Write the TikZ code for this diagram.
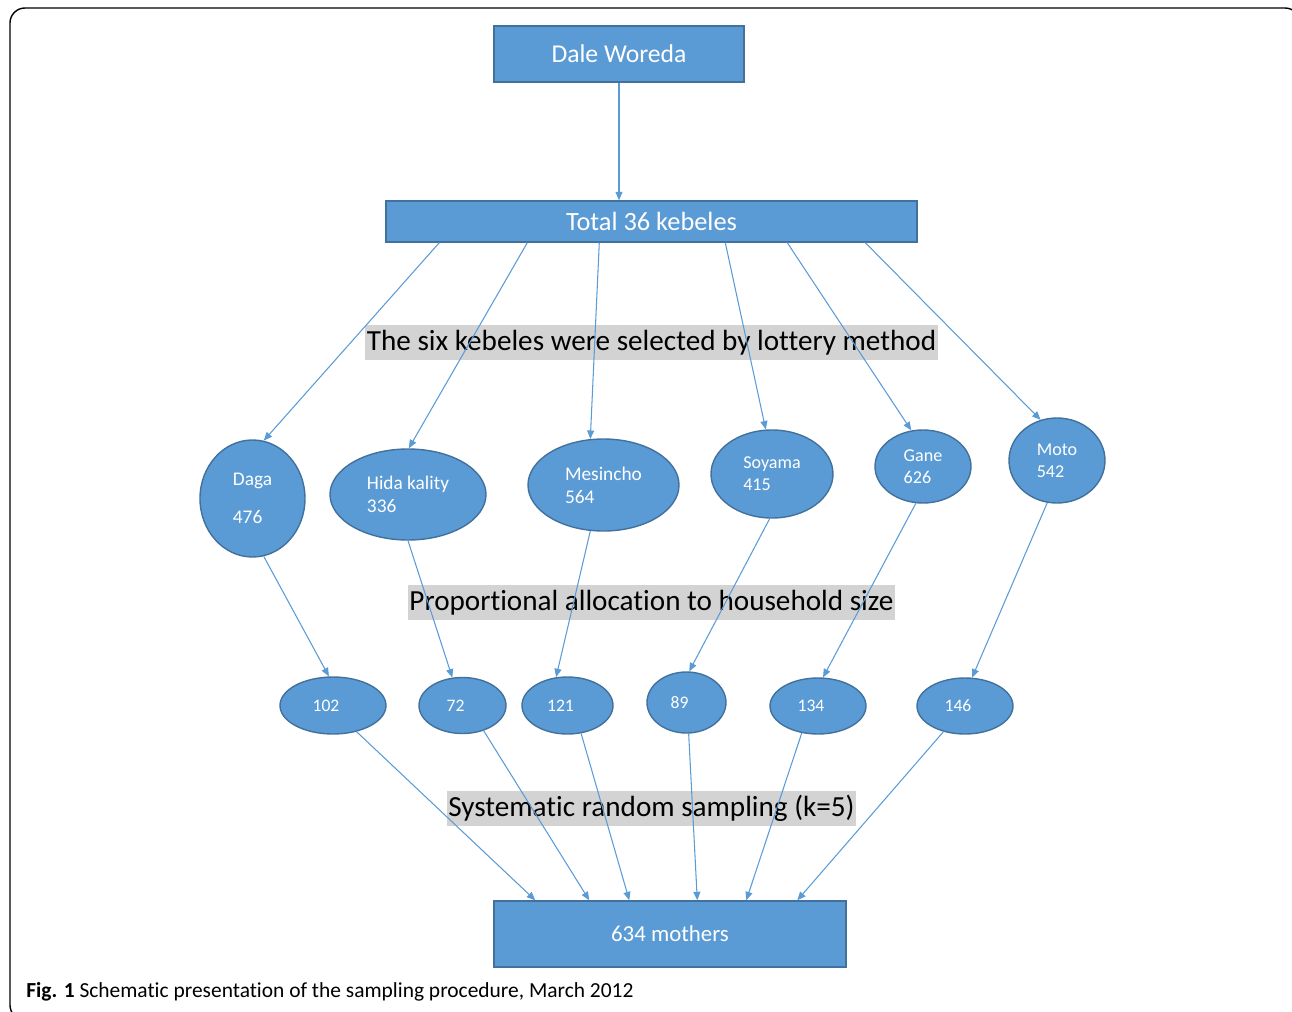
\documentclass[tikz,border=0pt]{standalone}
\usepackage{fontspec}
\setmainfont{Carlito}[Ligatures=NoCommon]
\usetikzlibrary{positioning}
\usetikzlibrary{shapes.geometric,arrows.meta}
\definecolor{boxblue}{HTML}{5B9BD5}
\definecolor{boxedge}{HTML}{41719C}
\definecolor{bandgray}{HTML}{D3D3D3}

\begin{document}
\begin{tikzpicture}[on grid,
	rbox/.style={draw=boxedge, fill=boxblue, line width=0.8pt, text=white, inner sep=0pt},
	kebele/.style={ellipse, draw=boxedge, fill=boxblue, line width=0.8pt, text=white, inner sep=0pt, align=left, font=\fontsize{11}{13}\selectfont},
	share/.style={ellipse, draw=boxedge, fill=boxblue, line width=0.8pt, text=white, inner sep=0pt, font=\fontsize{10}{12}\selectfont, execute at end node=\kern0.28cm},
	band/.style={fill=bandgray, inner xsep=1pt, inner ysep=0pt, minimum height=0.7cm, font=\fontsize{16.6}{19}\selectfont},
	conn/.style={draw=boxblue, line width=0.6pt, -{Triangle[length=1.7mm,width=1.4mm]}}]
	\useasboundingbox (-12.38,1.08) rectangle (13.46,-19.16);
	\draw[line width=0.8pt, rounded corners=0.3cm] (-12.18,0.92) rectangle (13.62,-19.32);
	%%%%%%%%%%
	\node[rbox, minimum width=5cm, minimum height=1.12cm, font=\fontsize{14.6}{17}\selectfont] (w) {Dale Woreda};
	\node[rbox, minimum width=10.62cm, minimum height=0.82cm, font=\fontsize{15}{18}\selectfont, below right=3.35cm and 0.65cm of w] (t) {Total 36 kebeles};
	\node[band, below=2.42cm of t] (l1) {The six kebeles were selected by lottery method};
	\node[band, below=5.20cm of l1] (l2) {Proportional allocation to household size};
	\node[band, below=4.11cm of l2] (l3) {Systematic random sampling (k=5)};
	%%%%%%%%%%
	\node[kebele, minimum width=2.10cm, minimum height=2.34cm, below left=5.54cm and 7.98cm of t] (k1) {Daga\\[9pt]476\kern0.16cm};
	\node[kebele, minimum width=3.12cm, minimum height=1.82cm, above right=0.08cm and 3.11cm of k1] (k2) {Hida kality\\336};
	\node[kebele, minimum width=3.02cm, minimum height=1.84cm, above right=0.19cm and 3.91cm of k2] (k3) {Mesincho\\564};
	\node[kebele, font=\fontsize{10.3}{12.5}\selectfont, minimum width=2.44cm, minimum height=1.76cm, above right=0.22cm and 3.37cm of k3] (k4) {Soyama\\415};
	\node[kebele, font=\fontsize{10.3}{12.5}\selectfont, minimum width=1.92cm, minimum height=1.46cm, above right=0.15cm and 3.02cm of k4] (k5) {Gane\\626};
	\node[kebele, font=\fontsize{10.3}{12.5}\selectfont, minimum width=1.92cm, minimum height=1.70cm, above right=0.12cm and 2.68cm of k5] (k6) {Moto\\542};
	%%%%%%%%%%
	\node[share, minimum width=2.12cm, minimum height=1.14cm, below right=4.14cm and 1.61cm of k1] (n1) {102};
	\node[share, minimum width=1.74cm, minimum height=1.12cm, right=2.59cm of n1] (n2) {72};
	\node[share, minimum width=1.82cm, minimum height=1.14cm, right=2.10cm of n2] (n3) {121};
	\node[share, minimum width=1.58cm, minimum height=1.22cm, above right=0.06cm and 2.38cm of n3] (n4) {89};
	\node[share, minimum width=1.92cm, minimum height=1.12cm, below right=0.07cm and 2.63cm of n4] (n5) {134};
	\node[share, minimum width=1.92cm, minimum height=1.12cm, right=2.94cm of n5] (n6) {146};
	\node[rbox, minimum width=7.04cm, minimum height=1.32cm, font=\fontsize{13}{16}\selectfont, below left=4.63cm and 0.33cm of n4] (m) {634 mothers};
	%%%%%%%%%%
	\draw[conn] (w) -- (w |- t.north);
	\draw[conn] ([xshift=1.08cm]t.south west) -- (k1.79);
	\draw[conn] ([xshift=2.84cm]t.south west) -- (k2.89);
	\draw[conn] ([xshift=4.28cm]t.south west) -- (k3.106);
	\draw[conn] ([xshift=6.80cm]t.south west) -- (k4.98);
	\draw[conn] ([xshift=8.04cm]t.south west) -- (k5.108);
	\draw[conn] ([xshift=9.60cm]t.south west) -- (k6.112);
	%%%%%%%%%%
	\draw[conn] (k1.-79) -- (n1.98);
	\draw[conn] (k2.-90) -- (n2.110);
	\draw[conn] (k3.-106) -- (n3.112);
	\draw[conn] (k4.-93) -- (n4.85);
	\draw[conn] (k5.-101) -- (n5.80);
	\draw[conn] (k6.-103) -- (n6.76);
	%%%%%%%%%%
	\draw[conn] (n1.-48) -- ([xshift=0.84cm]m.north west);
	\draw[conn] (n2.-50) -- ([xshift=1.92cm]m.north west);
	\draw[conn] (n3.-64) -- ([xshift=2.72cm]m.north west);
	\draw[conn] (n4.-86) -- ([xshift=4.08cm]m.north west);
	\draw[conn] (n5.-121) -- ([xshift=5.06cm]m.north west);
	\draw[conn] (n6.-130) -- ([xshift=6.08cm]m.north west);
	%%%%%%%%%%
	\node[anchor=west, inner sep=0pt, font=\fontsize{12.2}{15}\selectfont] (cap) at (-11.86,-18.76) {\textbf{Fig. 1} Schematic presentation of the sampling procedure, March 2012};
\end{tikzpicture}
\end{document}
